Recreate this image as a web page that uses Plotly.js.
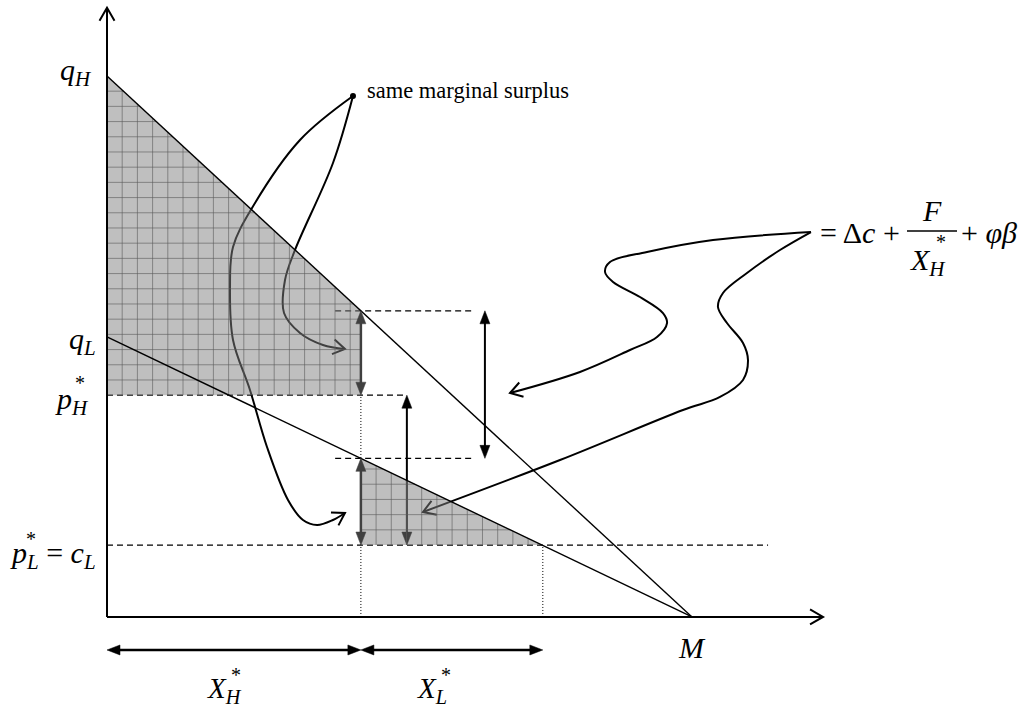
<!DOCTYPE html>
<html><head><meta charset="utf-8">
<script src="https://cdn.plot.ly/plotly-3.0.1.min.js"></script>
<style>html,body{margin:0;padding:0;background:#fff}#chart{width:1021px;height:711px}</style>
</head><body><div id="chart"></div>
<script>
// ---- economic values (data units) ----
const M  = 10;     // market size: both demand lines reach zero here
const qH = 10;     // high-quality intercept q_H
const qL = 5.18;   // low-quality intercept q_L
const XH = 4.34;   // X_H*
const XL = 3.11;   // X_L*
const pH = 4.1;    // p_H*
const cL = 1.33;   // p_L* = c_L

// ---- callout curves (data units) ----
const surplusLongX  = [4.205, 3.299, 2.479, 2.154, 2.103, 2.154, 2.444, 2.735, 3.094, 3.350, 3.590, 3.863, 4.068];
const surplusLongY  = [9.630, 8.817, 7.560, 6.839, 6.100, 5.120, 4.196, 3.142, 2.163, 1.793, 1.701, 1.793, 1.922];
const surplusShortX = [4.205, 3.863, 3.214, 3.043, 3.026, 3.299, 3.692, 4.068];
const surplusShortY = [9.630, 8.392, 6.784, 6.229, 5.619, 5.250, 5.028, 4.954];
const formulaAX = [12.034, 10.359, 9.231, 8.598, 8.513, 8.650, 9.111, 9.504, 9.573, 9.402, 8.940, 8.085, 6.889];
const formulaAY = [7.116, 6.969, 6.747, 6.562, 6.377, 6.192, 5.915, 5.619, 5.434, 5.176, 4.935, 4.529, 4.140];
const formulaBX = [12.034, 11.504, 10.940, 10.530, 10.444, 10.598, 10.872, 10.957, 10.872, 10.479, 9.846, 7.744, 5.402];
const formulaBY = [7.116, 6.784, 6.359, 5.989, 5.730, 5.434, 5.065, 4.750, 4.381, 4.067, 3.826, 2.902, 1.941];

// ---- frame ----
const W = 1021, H = 711;
const xr = [-1.829, 15.624], yr = [-1.738, 11.405];
const sx = W / (xr[1] - xr[0]);   // px per x unit
const sy = H / (yr[1] - yr[0]);   // px per y unit
const hi = x => qH * (1 - x / M);
const lo = x => qL * (1 - x / M);

const traces = [];
function line(xs, ys, color, width, dash, shape) {
  traces.push({type:'scatter', mode:'lines', x:xs, y:ys, hoverinfo:'skip',
    line:{color:color, width:width, dash:dash||'solid', shape:shape||'linear', smoothing:1}});
}
function tri(tx, ty, ux, uy, color, len, hw) {
  len = len || 13; hw = hw || 5;
  const n = Math.hypot(ux, uy); ux /= n; uy /= n;
  const bx = -len*ux, by = -len*uy, px = -uy, py = ux;
  const xs = [tx, tx + (bx + hw*px)/sx, tx + (bx - hw*px)/sx, tx];
  const ys = [ty, ty + (by + hw*py)/sy, ty + (by - hw*py)/sy, ty];
  traces.push({type:'scatter', mode:'lines', x:xs, y:ys, fill:'toself', fillcolor:color,
    line:{color:color, width:0.5}, hoverinfo:'skip'});
}
function vhead(tx, ty, ux, uy, color, width, len, ang) {
  len = len || 14; ang = (ang || 32) * Math.PI/180;
  const n = Math.hypot(ux, uy); ux /= n; uy /= n;
  const arm = s => {
    const c = Math.cos(s*ang), si = Math.sin(s*ang);
    const rx = ux*c - uy*si, ry = ux*si + uy*c;
    return [tx - len*rx/sx, ty - len*ry/sy];
  };
  const a = arm(1), b = arm(-1);
  line([a[0], tx, b[0]], [a[1], ty, b[1]], color, width);
}
function endDir(xs, ys) {
  const n = xs.length;
  return [(xs[n-1]-xs[n-2])*sx, (ys[n-1]-ys[n-2])*sy];
}
function dblV(x, y0, y1, color, width) {   // vertical double arrow, y0 bottom, y1 top
  line([x, x], [y0 + 8/sy, y1 - 8/sy], color, width);
  tri(x, y1, 0, 1, color); tri(x, y0, 0, -1, color);
}
function dblH(x0, x1, y, color, width) {
  line([x0 + 8/sx, x1 - 8/sx], [y, y], color, width);
  tri(x1, y, 1, 0, color); tri(x0, y, -1, 0, color);
}

// ---- layer 1: dashed / dotted guides (below the shading) ----
const DASH = '6px,4px';
line([0, XH + 0.786], [pH, pH], '#000', 1.3, DASH);
line([0, 11.3], [cL, cL], '#000', 1.3, DASH);
line([XH - 0.44, XH + 1.92], [hi(XH), hi(XH)], '#000', 1.3, DASH);
line([XH - 0.44, XH + 1.92], [lo(XH), lo(XH)], '#000', 1.3, DASH);
line([XH, XH], [0, pH], '#000', 1, '1px,2px');
line([XH + XL, XH + XL], [0, cL], '#000', 1, '1px,2px');

// ---- layer 2: callout curves ----
line(surplusLongX, surplusLongY, '#000', 2, null, 'spline');
line(surplusShortX, surplusShortY, '#000', 2, null, 'spline');
line(formulaAX, formulaAY, '#000', 2, null, 'spline');
line(formulaBX, formulaBY, '#000', 2, null, 'spline');
[[surplusLongX, surplusLongY], [surplusShortX, surplusShortY], [formulaAX, formulaAY], [formulaBX, formulaBY]]
  .forEach(([xs, ys]) => { const d = endDir(xs, ys); vhead(xs[xs.length-1], ys[ys.length-1], d[0], d[1], '#000', 2); });
traces.push({type:'scatter', mode:'markers', x:[surplusLongX[0]], y:[surplusLongY[0]],
  marker:{color:'#000', size:6}, hoverinfo:'skip'});
// black double arrow at p_H* .. c_L (partly under shading)
dblV(XH + 0.786, cL, pH, '#000', 2);

// ---- layer 3: shaded surplus regions ----
const FILL = 'rgba(128,128,128,0.5)';
traces.push({type:'scatter', mode:'lines', x:[0, XH, XH, 0, 0], y:[qH, hi(XH), pH, pH, qH],
  fill:'toself', fillcolor:FILL, line:{width:0}, hoverinfo:'skip'});
traces.push({type:'scatter', mode:'lines', x:[XH, XH + XL, XH, XH], y:[lo(XH), cL, cL, lo(XH)],
  fill:'toself', fillcolor:FILL, line:{width:0}, hoverinfo:'skip'});

// grid hatching inside the regions
const gp = 15.2, gx = gp / sx, gy = gp / sy;
const gX = [], gY = [];
for (let x = gx; x < XH - 1e-6; x += gx) { gX.push(x, x, null); gY.push(pH, hi(x), null); }
for (let y = pH + gy; y < qH; y += gy) {
  const xe = Math.min(XH, M * (1 - y / qH)); if (xe <= 0) break;
  gX.push(0, xe, null); gY.push(y, y, null);
}
for (let x = XH + gx; x < XH + XL - 1e-6; x += gx) { gX.push(x, x, null); gY.push(cL, lo(x), null); }
for (let y = cL + gy; y < lo(XH); y += gy) {
  gX.push(XH, M * (1 - y / qL), null); gY.push(y, y, null);
}
traces.push({type:'scatter', mode:'lines', x:gX, y:gY, line:{color:'rgba(90,90,90,0.6)', width:1}, hoverinfo:'skip'});

// ---- layer 4: demand lines, axes, arrows ----
line([0, M], [qH, 0], '#000', 1.4);
line([0, M], [qL, 0], '#000', 1.4);
line([0, 0], [0, 11.26], '#000', 2);
line([0, 12.24], [0, 0], '#000', 2);
vhead(0, 11.26, 0, 1, '#000', 2, 15, 30);
vhead(12.24, 0, 1, 0, '#000', 2, 15, 30);

dblV(XH, pH, hi(XH), '#404040', 2.5);
dblV(XH, cL, lo(XH), '#404040', 2.5);
dblV(XH + 2.12, lo(XH), hi(XH), '#000', 2);
const yArr = -0.61;
dblH(0, XH, yArr, '#000', 2.5);
dblH(XH, XH + XL, yArr, '#000', 2.5);
// fraction bar of the formula
line([13.675, 14.53], [7.135, 7.135], '#000', 1.3);

// ---- text ----
const FF = 'Liberation Serif, Times New Roman, serif';
const F = s => ({family:FF, size:s, color:'#000'});
function ann(text, x, y, xa, size, ys) {
  return {text:text, x:x, y:y, xref:'x', yref:'y', xanchor:xa||'center', yanchor:'middle',
    showarrow:false, font:F(size||30), yshift:ys||0};
}
const annotations = [
  ann('<i>q</i><sub><i>H</i></sub>', -0.22, qH, 'right', 30, 4),
  ann('<i>q</i><sub><i>L</i></sub>', -0.16, qL, 'right', 30, -4),
  ann('<i>p</i><sub><i>H</i></sub>', -0.28, pH, 'right', 30, -6),
  ann('*', -0.46, pH, 'center', 20, 12),
  ann('<i>p</i><sub><i>L</i></sub> = <i>c</i><sub><i>L</i></sub>', -0.16, cL, 'right', 30, -10),
  ann('*', -1.3, cL, 'center', 20, 6),
  ann('<i>M</i>', M, -0.555, 'center', 30, 0),
  ann('<i>X</i><sub><i>H</i></sub>', 2.0, -1.44, 'center', 29, 5),
  ann('*', 2.2, -1.15, 'center', 20, 4),
  ann('<i>X</i><sub><i>L</i></sub>', 5.56, -1.44, 'center', 29, 5),
  ann('*', 5.8, -1.15, 'center', 20, 4),
  ann('same marginal surplus', 4.41, 9.74, 'left', 22.5, 0),
  ann('= Δ<i>c</i> +', 12.15, 7.116, 'left', 30, 0),
  ann('<i>F</i>', 14.10, 7.52, 'center', 30, 0),
  ann('<i>X</i><sub><i>H</i></sub>', 14.03, 6.56, 'center', 30, 0),
  ann('*', 14.25, 6.93, 'center', 20, 0),
  ann('+ <i>φβ</i>', 14.56, 7.116, 'left', 30, 0)
];

const layout = {
  width:W, height:H, margin:{l:0, r:0, t:0, b:0, pad:0},
  paper_bgcolor:'#fff', plot_bgcolor:'#fff', showlegend:false,
  xaxis:{range:xr, visible:false, fixedrange:true},
  yaxis:{range:yr, visible:false, fixedrange:true},
  annotations:annotations
};
Plotly.newPlot('chart', traces, layout, {staticPlot:true, displayModeBar:false});
</script></body></html>
